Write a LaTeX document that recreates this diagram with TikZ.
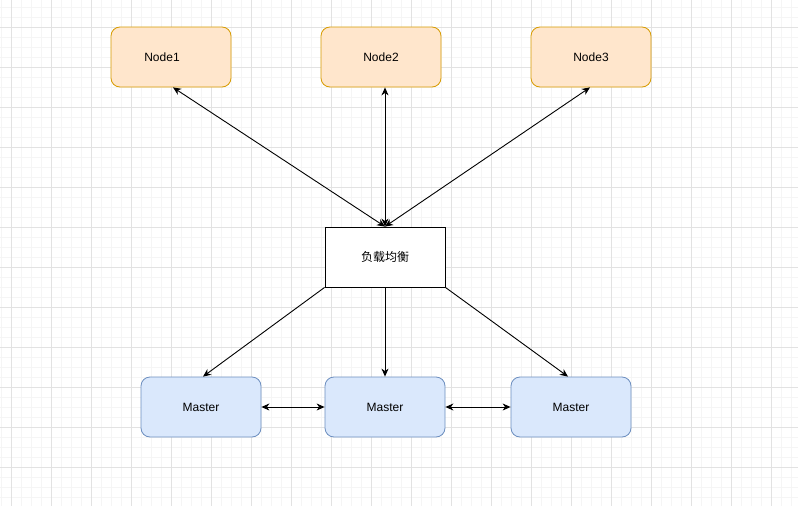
\documentclass[tikz,border=0pt]{standalone}
\usepackage{fontspec}
\setmainfont{Liberation Sans}
\newfontfamily\cjkfont{Noto Sans CJK SC}
\usetikzlibrary{arrows.meta}
\definecolor{gridminor}{HTML}{F5F5F5}
\definecolor{gridmajor}{HTML}{E2E2E2}
\definecolor{orangefill}{HTML}{FFE6CC}
\definecolor{orangeline}{HTML}{D79B00}
\definecolor{bluefill}{HTML}{DAE8FC}
\definecolor{blueline}{HTML}{6C8EBF}
\tikzset{
  box/.style={minimum width=120pt, minimum height=60pt, inner sep=0pt,
    font=\fontsize{12pt}{14pt}\selectfont, line width=0.8pt},
  clientbox/.style={box, draw=orangeline, fill=orangefill, rounded corners=9pt},
  masterbox/.style={box, draw=blueline, fill=bluefill, rounded corners=9pt},
  lbbox/.style={box, draw=black, fill=white},
  link/.style={line width=0.9pt, -{Stealth[length=8pt,width=7pt,inset=2.5pt]}},
  duplex/.style={line width=0.9pt, {Stealth[length=8pt,width=7pt,inset=2.5pt]}-{Stealth[length=8pt,width=7pt,inset=2.5pt]}},
}
\begin{document}
\begin{tikzpicture}[x=1pt, y=-1pt]
  % page and grid
  \fill[white] (0,0) rectangle (798,506);
  \useasboundingbox (0,0) rectangle (798,506);
  \foreach \gx in {1,11,...,791} \draw[gridminor, line width=0.8pt] (\gx,0) -- (\gx,506);
  \foreach \gy in {7,17,...,497} \draw[gridminor, line width=0.8pt] (0,\gy) -- (798,\gy);
  \foreach \gx in {11,51,...,771} \draw[gridmajor, line width=0.8pt] (\gx,0) -- (\gx,506);
  \foreach \gy in {27,67,...,467} \draw[gridmajor, line width=0.8pt] (0,\gy) -- (798,\gy);

  % client nodes (the first label sits a little left of centre)
  \node[clientbox] (n1) at (171,57) {\hspace*{-18pt}Node1};
  \node[clientbox] (n2) at (381,57) {Node2};
  \node[clientbox] (n3) at (591,57) {Node3};

  % load balancer
  \node[lbbox] (lb) at (385,257) {\cjkfont 负载均衡};

  % masters
  \node[masterbox] (m1) at (201,407) {Master};
  \node[masterbox] (m2) at (385,407) {Master};
  \node[masterbox] (m3) at (571,407) {Master};

  % client <-> load balancer
  \draw[duplex] ([xshift=2pt]n1.south) -- (lb.north);
  \draw[duplex] (lb.north |- n2.south) -- (lb.north);
  \draw[duplex] ([xshift=-1pt]n3.south) -- (lb.north);

  % load balancer -> masters
  \draw[link] (lb.south west) -- ([xshift=2pt]m1.north);
  \draw[link] (lb.south) -- (m2.north);
  \draw[link] (lb.south east) -- ([xshift=-3pt]m3.north);

  % master <-> master
  \draw[duplex] (m1.east) -- (m2.west);
  \draw[duplex] (m2.east) -- (m3.west);
\end{tikzpicture}
\end{document}
